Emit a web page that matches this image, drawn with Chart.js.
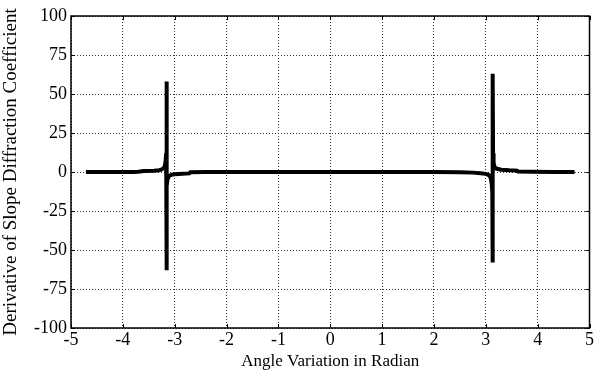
<!DOCTYPE html>
<html>
<head>
<meta charset="utf-8">
<script src="https://cdn.jsdelivr.net/npm/chart.js@4/dist/chart.umd.min.js"></script>
<style>
  html, body { margin: 0; padding: 0; background: #fff; }
  #wrap { width: 595px; height: 372px; }
</style>
</head>
<body>
<div id="wrap"><canvas id="myChart"></canvas></div>
<script>
// angle (rad) and derivative values
var angleX = [-4.712, -4.2, -3.8, -3.7, -3.6, -3.4, -3.3, -3.25, -3.21, -3.19, -3.175, -3.165, -3.16, -3.155, -3.15, -3.14, -3.12, -3.1, -3.05, -3.0, -2.85, -2.72, -2.7, -2.4, -2.0, -1.0, 0.0, 1.0, 2.0, 2.5, 2.75, 2.9, 3.0, 3.05, 3.08, 3.1, 3.115, 3.125, 3.13, 3.135, 3.14, 3.15, 3.17, 3.2, 3.3, 3.45, 3.6, 3.62, 3.9, 4.3, 4.712];
var coeffY = [0, 0, 0, 0.1, 0.6, 0.8, 1.1, 1.6, 2.6, 4, 7, 12, 58, -63, -9, -5, -3.2, -2.3, -1.7, -1.4, -1.1, -0.9, -0.2, 0, 0, 0, 0, 0, 0, -0.1, -0.4, -0.8, -1.2, -1.8, -2.8, -4.5, -8, -13, -58, 63, 12, 6, 3.2, 2.2, 1.5, 1.1, 0.9, 0.3, 0.1, 0, 0];
var xTicks = [-5, -4, -3, -2, -1, 0, 1, 2, 3, 4, 5];
var yTicks = [-100, -75, -50, -25, 0, 25, 50, 75, 100];

var points = angleX.map(function(x, i) { return { x: x, y: coeffY[i] }; });

// solid box round the plot plus short inward tick marks
var frame = {
  id: "frame",
  afterDraw: function(c) {
    var a = c.chartArea, ctx = c.ctx;
    var sx = c.scales.x, sy = c.scales.y;
    ctx.save();
    ctx.strokeStyle = "#000";
    ctx.lineWidth = 1;
    ctx.beginPath();
    xTicks.forEach(function(v) {
      var px = Math.round(sx.getPixelForValue(v)) + 0.5;
      ctx.moveTo(px, a.bottom); ctx.lineTo(px, a.bottom - 4);
      ctx.moveTo(px, a.top); ctx.lineTo(px, a.top + 4);
    });
    yTicks.forEach(function(v) {
      var py = Math.round(sy.getPixelForValue(v)) + 0.5;
      ctx.moveTo(a.left, py); ctx.lineTo(a.left + 4, py);
      ctx.moveTo(a.right, py); ctx.lineTo(a.right - 4, py);
    });
    ctx.stroke();
    ctx.lineWidth = 1.5;
    ctx.strokeRect(a.left, a.top, a.right - a.left, a.bottom - a.top);
    ctx.restore();
  }
};

var fontFam = "'Liberation Serif', 'Times New Roman', serif";

new Chart(document.getElementById("myChart"), {
  type: "scatter",
  data: {
    datasets: [{
      data: points,
      showLine: true,
      borderColor: "#000",
      borderWidth: 4,
      pointRadius: 0,
      tension: 0,
      fill: false
    }]
  },
  options: {
    responsive: true,
    maintainAspectRatio: false,
    animation: false,
    layout: { padding: { top: 16, right: 4, left: 0, bottom: 0 } },
    plugins: { legend: { display: false }, tooltip: { enabled: false } },
    scales: {
      x: {
        type: "linear",
        min: -5, max: 5,
        afterBuildTicks: function(s) { s.ticks = xTicks.map(function(v) { return { value: v }; }); },
        afterFit: function(s) { s.height = 44; },
        ticks: { color: "#000", font: { family: fontFam, size: 18 }, padding: 1, maxRotation: 0 },
        grid: { color: "#333", lineWidth: 1, drawTicks: false },
        border: { display: false, dash: [1, 2] },
        title: { display: true, text: "Angle Variation in Radian", color: "#000", font: { family: fontFam, size: 17 }, padding: { top: 0, bottom: 0 } }
      },
      y: {
        min: -100, max: 100,
        afterBuildTicks: function(s) { s.ticks = yTicks.map(function(v) { return { value: v }; }); },
        afterFit: function(s) { s.width = 71; },
        ticks: { color: "#000", font: { family: fontFam, size: 18 }, padding: 4 },
        grid: { color: "#333", lineWidth: 1, drawTicks: false },
        border: { display: false, dash: [1, 2] },
        title: { display: true, text: "Derivative of Slope Diffraction Coefficient", color: "#000", font: { family: fontFam, size: 19 }, padding: { top: 0, bottom: 0 } }
      }
    }
  },
  plugins: [frame]
});
</script>
</body>
</html>
